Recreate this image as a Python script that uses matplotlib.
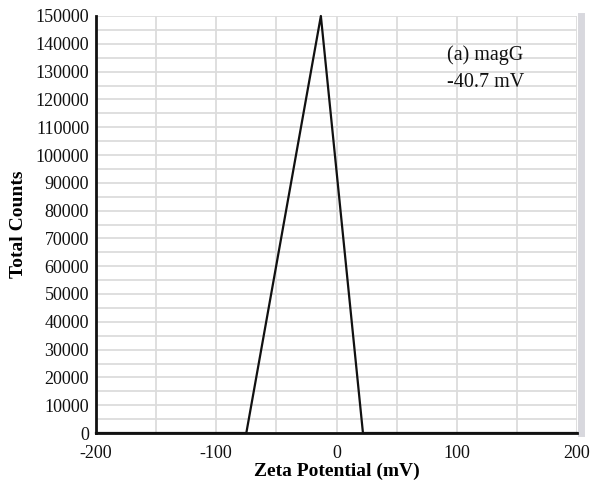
import matplotlib.pyplot as plt
from matplotlib.ticker import MultipleLocator

# Zeta potential distribution
zeta_mv = [-200, -75, -13, 22, 200]
total_counts = [0, 0, 150000, 0, 0]

x_ticks = [-200, -100, 0, 100, 200]
y_ticks = list(range(0, 150001, 10000))

sample_label = "(a) magG"
zeta_label = "-40.7 mV"

plt.rcParams['font.family'] = ['Liberation Serif', 'DejaVu Serif']
plt.rcParams['axes.unicode_minus'] = False

fig = plt.figure(figsize=(5.92, 4.82), dpi=100)
ax = fig.add_axes([96 / 592, 1 - 433 / 482, (577 - 96) / 592, (433 - 16) / 482])

ax.plot(zeta_mv, total_counts, color='#111111', linewidth=1.6, clip_on=False, zorder=3)

ax.set_xlim(-200, 200)
ax.set_ylim(0, 150000)
ax.set_xticks(x_ticks)
ax.set_yticks(y_ticks)
ax.xaxis.set_minor_locator(MultipleLocator(50))
ax.yaxis.set_minor_locator(MultipleLocator(5000))

# light grid on major and minor
ax.grid(True, which='both', color='#dcdcdc', linewidth=1.3)
ax.set_axisbelow(True)

ax.tick_params(axis='both', which='both', length=0, labelsize=13, colors='#111111')
ax.tick_params(axis='x', pad=9)
ax.tick_params(axis='y', pad=5)

ax.spines['left'].set_color('#111111')
ax.spines['left'].set_linewidth(2)
ax.spines['bottom'].set_color('#111111')
ax.spines['bottom'].set_linewidth(2)
ax.spines['top'].set_visible(False)
ax.spines['right'].set_color('#d8d8de')
ax.spines['right'].set_linewidth(5)
ax.spines['right'].set_position(('outward', 3))

ax.set_xlabel('Zeta Potential (mV)', fontsize=14, fontweight='bold', labelpad=0)
ax.set_ylabel('Total Counts', fontsize=14, fontweight='bold', labelpad=6)

ax.text(0.73, 0.895, sample_label, transform=ax.transAxes, fontsize=14.5, color='#111111')
ax.text(0.73, 0.83, zeta_label, transform=ax.transAxes, fontsize=14.5, color='#111111')

plt.savefig('out.png', dpi=100)
